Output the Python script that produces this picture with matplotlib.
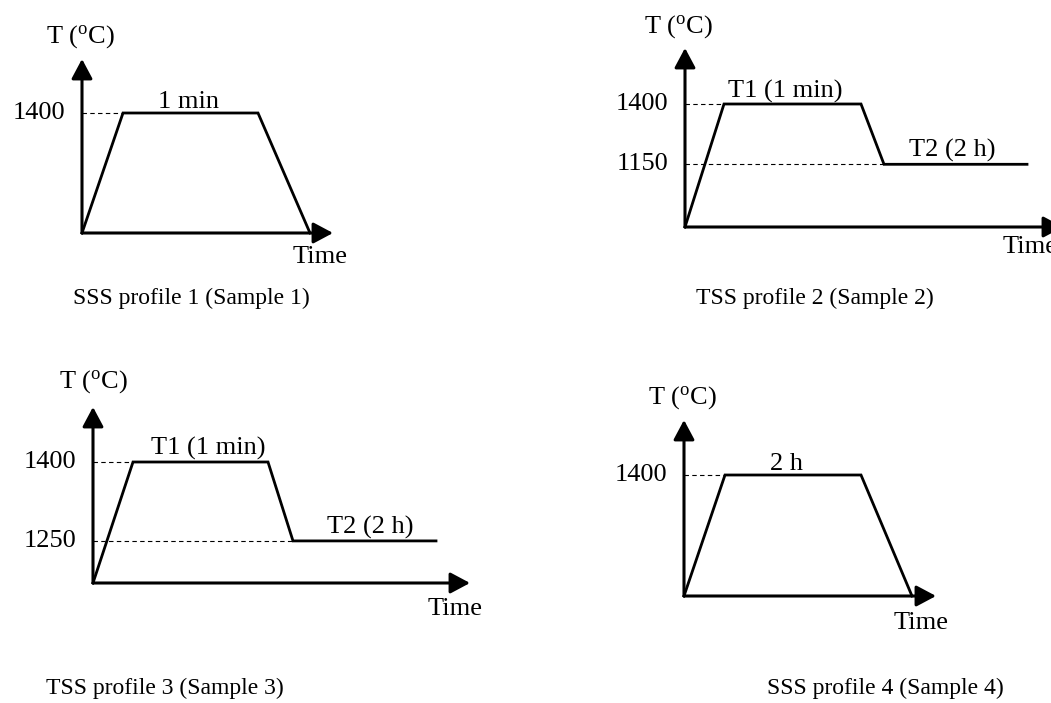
import matplotlib.pyplot as plt

plt.rcParams['font.family'] = 'Liberation Serif'
plt.rcParams['mathtext.fontset'] = 'custom'
plt.rcParams['mathtext.rm'] = 'Liberation Serif'

W, H = 1051, 703

# schematic heat treatment profiles (time in arbitrary units, temperature in C)
time_p1 = [0, 0.82, 3.52, 4.56]
temp_p1 = [25, 1400, 1400, 25]

time_p2 = [0, 0.78, 3.52, 3.98, 6.84]
temp_p2 = [890, 1400, 1400, 1150, 1150]

time_p3 = [0, 0.80, 3.50, 4.00, 6.86]
temp_p3 = [1170, 1400, 1400, 1250, 1250]

time_p4 = [0, 0.82, 3.54, 4.56]
temp_p4 = [25, 1400, 1400, 25]

levels_p1 = [1400]
levels_p2 = [1400, 1150]
levels_p3 = [1400, 1250]
levels_p4 = [1400]

captions = ['SSS profile 1 (Sample 1)', 'TSS profile 2 (Sample 2)',
            'TSS profile 3 (Sample 3)', 'SSS profile 4 (Sample 4)']

fig = plt.figure(figsize=(W / 100, H / 100), dpi=100)


def panel(ox, oy, xtip, ytip, y1400, times, temps, levels, notes, time_pos, tlabel_pos):
    # ox, oy: origin in pixels; y1400: pixel row of the 1400 level
    px_per_unit = 50.0
    t0 = temps[0]
    deg_per_px = (1400 - t0) / (oy - y1400)
    ax = fig.add_axes([ox / W, 1 - oy / H, (xtip - ox) / W, (oy - ytip) / H])
    ax.set_xlim(0, (xtip - ox) / px_per_unit)
    ax.set_ylim(t0, t0 + (oy - ytip) * deg_per_px)
    ax.axis('off')
    ax.plot(times, temps, color='black', lw=2.0, solid_joinstyle='miter', clip_on=False)
    for lv in levels:
        # dashed guide from the axis to where the profile reaches the level
        xs = [t for t, T in zip(times, temps) if T == lv]
        ax.plot([0, xs[0]], [lv, lv], color='black', lw=0.8, dashes=(4, 3), clip_on=False)
        ax.text(-0.34, lv, str(lv), ha='right', va='center', fontsize=19)
    arrow = dict(arrowstyle='-|>,head_length=0.6,head_width=0.32', color='black',
                 lw=2.2, shrinkA=0, shrinkB=0, mutation_scale=20)
    ax.annotate('', xy=(0, 1), xytext=(0, 0), xycoords='axes fraction',
                arrowprops=arrow, annotation_clip=False)
    ax.annotate('', xy=(1, 0), xytext=(0, 0), xycoords='axes fraction',
                arrowprops=arrow, annotation_clip=False)
    for txt, x, T in notes:
        ax.text(x, T, txt, ha='center', va='bottom', fontsize=19)
    fig.text(time_pos[0] / W, 1 - time_pos[1] / H, 'Time', ha='center', va='center', fontsize=19)
    fig.text(tlabel_pos[0] / W, 1 - tlabel_pos[1] / H, r'T ($\mathregular{^o}$C)',
             ha='center', va='center', fontsize=19)
    return ax


panel(82, 233, 333, 59, 113, time_p1, temp_p1, levels_p1,
      [('1 min', 2.14, 1405)], (320, 257), (80, 37))
panel(685, 227, 1063, 48, 104, time_p2, temp_p2, levels_p2,
      [('T1 (1 min)', 2.0, 1405), ('T2 (2 h)', 5.34, 1158)], (1030, 247), (678, 27))
panel(93, 583, 470, 407, 462, time_p3, temp_p3, levels_p3,
      [('T1 (1 min)', 2.3, 1403), ('T2 (2 h)', 5.54, 1253)], (455, 609), (93, 382))
panel(684, 596, 936, 420, 475, time_p4, temp_p4, levels_p4,
      [('2 h', 2.06, 1405)], (921, 623), (682, 398))

cap_pos = [(191, 298), (815, 298), (165, 688), (885, 688)]
for txt, (x, y) in zip(captions, cap_pos):
    fig.text(x / W, 1 - y / H, txt, ha='center', va='center', fontsize=17)

fig.savefig('out.png', dpi=100)
